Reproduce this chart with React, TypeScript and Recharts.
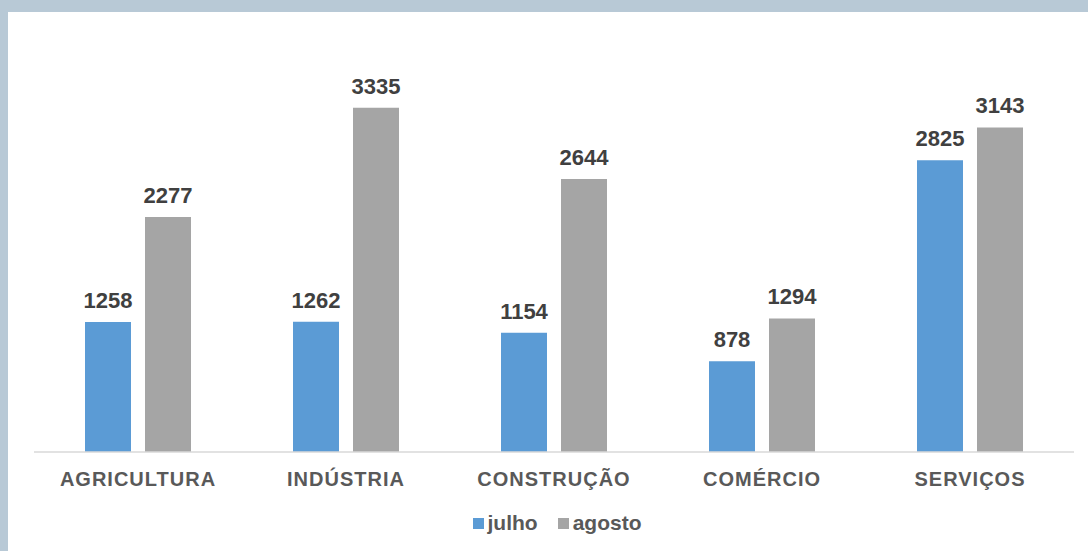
import { BarChart, Bar, XAxis, YAxis, Legend, LabelList } from "recharts";

const sectors = ["AGRICULTURA", "INDÚSTRIA", "CONSTRUÇÃO", "COMÉRCIO", "SERVIÇOS"];
const julho = [1258, 1262, 1154, 878, 2825];
const agosto = [2277, 3335, 2644, 1294, 3143];

const data = sectors.map((name, i) => ({ name, julho: julho[i], agosto: agosto[i] }));

const FONT = '"Liberation Sans", Arial, sans-serif';
const BLUE = "#5B9BD5";
const GRAY = "#A5A5A5";

function SectorTick({ x, y, payload }: any) {
  return (
    <text
      x={x}
      y={y}
      dy={34}
      textAnchor="middle"
      fill="#595959"
      fontFamily={FONT}
      fontSize={20}
      fontWeight="bold"
      letterSpacing={1}
    >
      {payload.value}
    </text>
  );
}

function LegendBox() {
  const items = [
    { label: "julho", color: BLUE },
    { label: "agosto", color: GRAY },
  ];
  return (
    <div
      style={{
        display: "flex",
        justifyContent: "center",
        alignItems: "center",
        gap: 20,
        fontFamily: FONT,
        fontSize: 21,
        fontWeight: "bold",
        color: "#595959",
        lineHeight: "24px",
        paddingLeft: 6,
      }}
    >
      {items.map((it) => (
        <span key={it.label} style={{ display: "flex", alignItems: "center" }}>
          <span style={{ width: 11, height: 11, background: it.color, marginRight: 4, display: "inline-block" }} />
          {it.label}
        </span>
      ))}
    </div>
  );
}

export default function App() {
  return (
    <div style={{ position: "absolute", left: 0, top: 0, width: 1088, height: 551, background: "#B8C9D6" }}>
      <div style={{ position: "absolute", left: 8, top: 12, width: 1080, height: 539, background: "#fff" }}>
        <BarChart
          width={1080}
          height={539}
          data={data}
          margin={{ top: 27, right: 14, left: 26, bottom: 16 }}
          barSize={46}
          barGap={14}
        >
          <XAxis
            dataKey="name"
            height={59}
            tickLine={false}
            tickSize={0}
            tickMargin={0}
            axisLine={{ stroke: "#D9D9D9", strokeWidth: 1.5 }}
            tick={<SectorTick />}
            interval={0}
          />
          <YAxis hide domain={[0, 4000]} />
          <Legend verticalAlign="bottom" content={<LegendBox />} />
          <Bar dataKey="julho" fill={BLUE} isAnimationActive={false}>
            <LabelList
              dataKey="julho"
              position="top"
              offset={14}
              fill="#404040"
              fontFamily={FONT}
              fontSize={22}
              fontWeight="bold"
            />
          </Bar>
          <Bar dataKey="agosto" fill={GRAY} isAnimationActive={false}>
            <LabelList
              dataKey="agosto"
              position="top"
              offset={14}
              fill="#404040"
              fontFamily={FONT}
              fontSize={22}
              fontWeight="bold"
            />
          </Bar>
        </BarChart>
      </div>
    </div>
  );
}
